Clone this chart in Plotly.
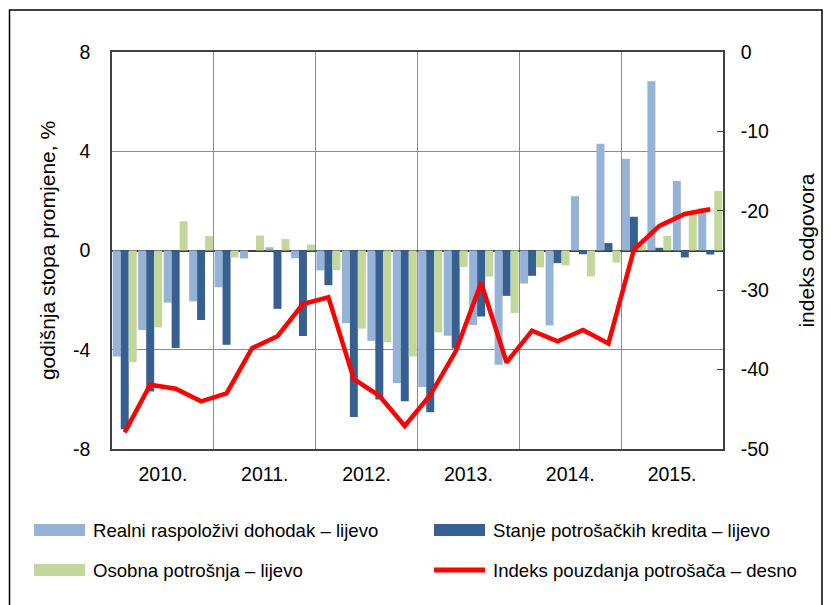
import plotly.graph_objects as go

years = ["2010.", "2011.", "2012.", "2013.", "2014.", "2015."]
quarters_per_year = 4

realni_dohodak = [-4.27, -3.2, -2.1, -2.05, -1.48, -0.32, 0.13, -0.31, -0.8, -2.93, -3.64, -5.34,
                  -5.5, -3.44, -3.0, -4.6, -1.33, -3.02, 2.19, 4.3, 3.7, 6.82, 2.8, 1.7]
potrosacki_krediti = [-7.2, -5.68, -3.93, -2.8, -3.8, 0.0, -2.35, -3.45, -1.4, -6.71, -6.0, -6.08,
                      -6.52, -3.95, -2.66, -1.83, -1.02, -0.51, -0.15, 0.3, 1.36, 0.11, -0.28, -0.16]
osobna_potrosnja = [-4.5, -3.1, 1.18, 0.58, -0.28, 0.6, 0.46, 0.24, -0.79, -3.15, -3.7, -4.27,
                    -3.3, -0.67, -1.05, -2.52, -0.68, -0.6, -1.05, -0.48, 0.2, 0.59, 1.5, 2.4]
indeks_pouzdanja = [-47.9, -41.9, -42.4, -44.0, -43.0, -37.3, -35.8, -31.75, -30.9, -41.2, -43.3, -47.1,
                    -43.2, -37.7, -29.1, -39.1, -35.1, -36.45, -35.0, -36.7, -24.9, -21.9, -20.4, -19.8]

left_ticks = [-8, -4, 0, 4, 8]
right_ticks = [-50, -40, -30, -20, -10, 0]

names = ["Realni raspoloživi dohodak – lijevo", "Stanje potrošačkih kredita – lijevo",
         "Osobna potrošnja – lijevo", "Indeks pouzdanja potrošača – desno"]
colors = ["#95B3D7", "#366092", "#C4D79B", "#FF0000"]

n = len(realni_dohodak)
x = list(range(n))
year_centers = [i * quarters_per_year + (quarters_per_year - 1) / 2 for i in range(len(years))]
year_bounds = [i * quarters_per_year - 0.5 for i in range(len(years) + 1)]

FONT = "Liberation Sans, Arial, sans-serif"
AX = "#404040"
GRID = "#8c8c8c"
TICK_SIZE = 19.5
LEGEND_SIZE = 18.6
TITLE_SIZE = 21

fig = go.Figure()
for vals, name, col in zip([realni_dohodak, potrosacki_krediti, osobna_potrosnja], names[:3], colors[:3]):
    fig.add_trace(go.Bar(x=x, y=vals, name=name, marker=dict(color=col, line=dict(width=0)), showlegend=False))
fig.add_trace(go.Scatter(x=x, y=indeks_pouzdanja, name=names[3], mode="lines", yaxis="y2",
                         line=dict(color=colors[3], width=4.5), showlegend=False))

# the page body adds an 8px offset; layout numbers below are in screen pixels minus that offset
OFF = 8
W, H = 831, 605
L, T = 112 - OFF, 52 - OFF
R = W - (723 - OFF)
B = H - (449 - OFF)
pw, ph = W - L - R, H - T - B

def px_x(sx):
    return (sx - OFF - L) / pw

def px_y(sy):
    return (H - B - (sy - OFF)) / ph

# custom legend: swatches + labels (two columns, two rows)
legend_cols = [34, 434]
legend_rows = [530, 570]
shapes = [dict(type="rect", xref="paper", yref="paper",
               x0=px_x(9.5), x1=px_x(822), y0=px_y(640), y1=px_y(10),
               line=dict(color="black", width=1.5), fillcolor="rgba(0,0,0,0)", layer="below")]
annotations = []
for i, (name, col) in enumerate(zip(names, colors)):
    cx = legend_cols[i % 2]
    cy = legend_rows[i // 2]
    if i < 3:
        shapes.append(dict(type="rect", xref="paper", yref="paper",
                           x0=px_x(cx), x1=px_x(cx + 51), y0=px_y(cy + 6), y1=px_y(cy - 6),
                           line=dict(width=0), fillcolor=col))
    else:
        shapes.append(dict(type="line", xref="paper", yref="paper",
                           x0=px_x(cx), x1=px_x(cx + 51), y0=px_y(cy), y1=px_y(cy),
                           line=dict(color=col, width=5)))
    annotations.append(dict(text=name, xref="paper", yref="paper", x=px_x(cx + 57), y=px_y(cy),
                            xanchor="left", yanchor="middle", showarrow=False,
                            font=dict(size=LEGEND_SIZE, family=FONT, color="black")))

fig.update_layout(
    width=W, height=H,
    margin=dict(l=L, r=R, t=T, b=B, pad=0, autoexpand=False),
    paper_bgcolor="white", plot_bgcolor="white",
    font=dict(family=FONT, size=TICK_SIZE, color="black"),
    barmode="group", bargap=0.06, bargroupgap=0,
    showlegend=False,
    xaxis=dict(
        range=[-0.5, n - 0.5], tickmode="array", tickvals=year_centers, ticktext=years,
        showgrid=False, zeroline=False, ticks="", ticklabelstandoff=7, automargin=False,
        showline=True, linecolor=AX, linewidth=1.5, mirror=True,
        minor=dict(tickmode="array", tickvals=year_bounds, showgrid=True, gridcolor=GRID, gridwidth=1, ticks=""),
        tickfont=dict(size=TICK_SIZE),
    ),
    yaxis=dict(
        range=[-8, 8], tickmode="array", tickvals=left_ticks, ticktext=[str(v) for v in left_ticks],
        showgrid=True, gridcolor=GRID, gridwidth=1, automargin=False,
        zeroline=True, zerolinecolor=AX, zerolinewidth=1.5,
        showline=True, linecolor=AX, linewidth=1.5, ticks="", ticklabelstandoff=16,
        title=dict(text="godišnja stopa promjene, %", font=dict(size=TITLE_SIZE), standoff=12),
        tickfont=dict(size=TICK_SIZE),
    ),
    yaxis2=dict(
        range=[-50, 0], overlaying="y", side="right", tickmode="array",
        tickvals=right_ticks, ticktext=[str(v) for v in right_ticks],
        showgrid=False, zeroline=False, automargin=False,
        showline=True, linecolor=AX, linewidth=1.5, ticks="inside", ticklen=6, tickcolor=AX,
        ticklabelstandoff=12,
        title=dict(text="indeks odgovora", font=dict(size=TITLE_SIZE), standoff=31),
        tickfont=dict(size=TICK_SIZE),
    ),
    shapes=shapes,
    annotations=annotations,
)

fig.write_html("out.html")
